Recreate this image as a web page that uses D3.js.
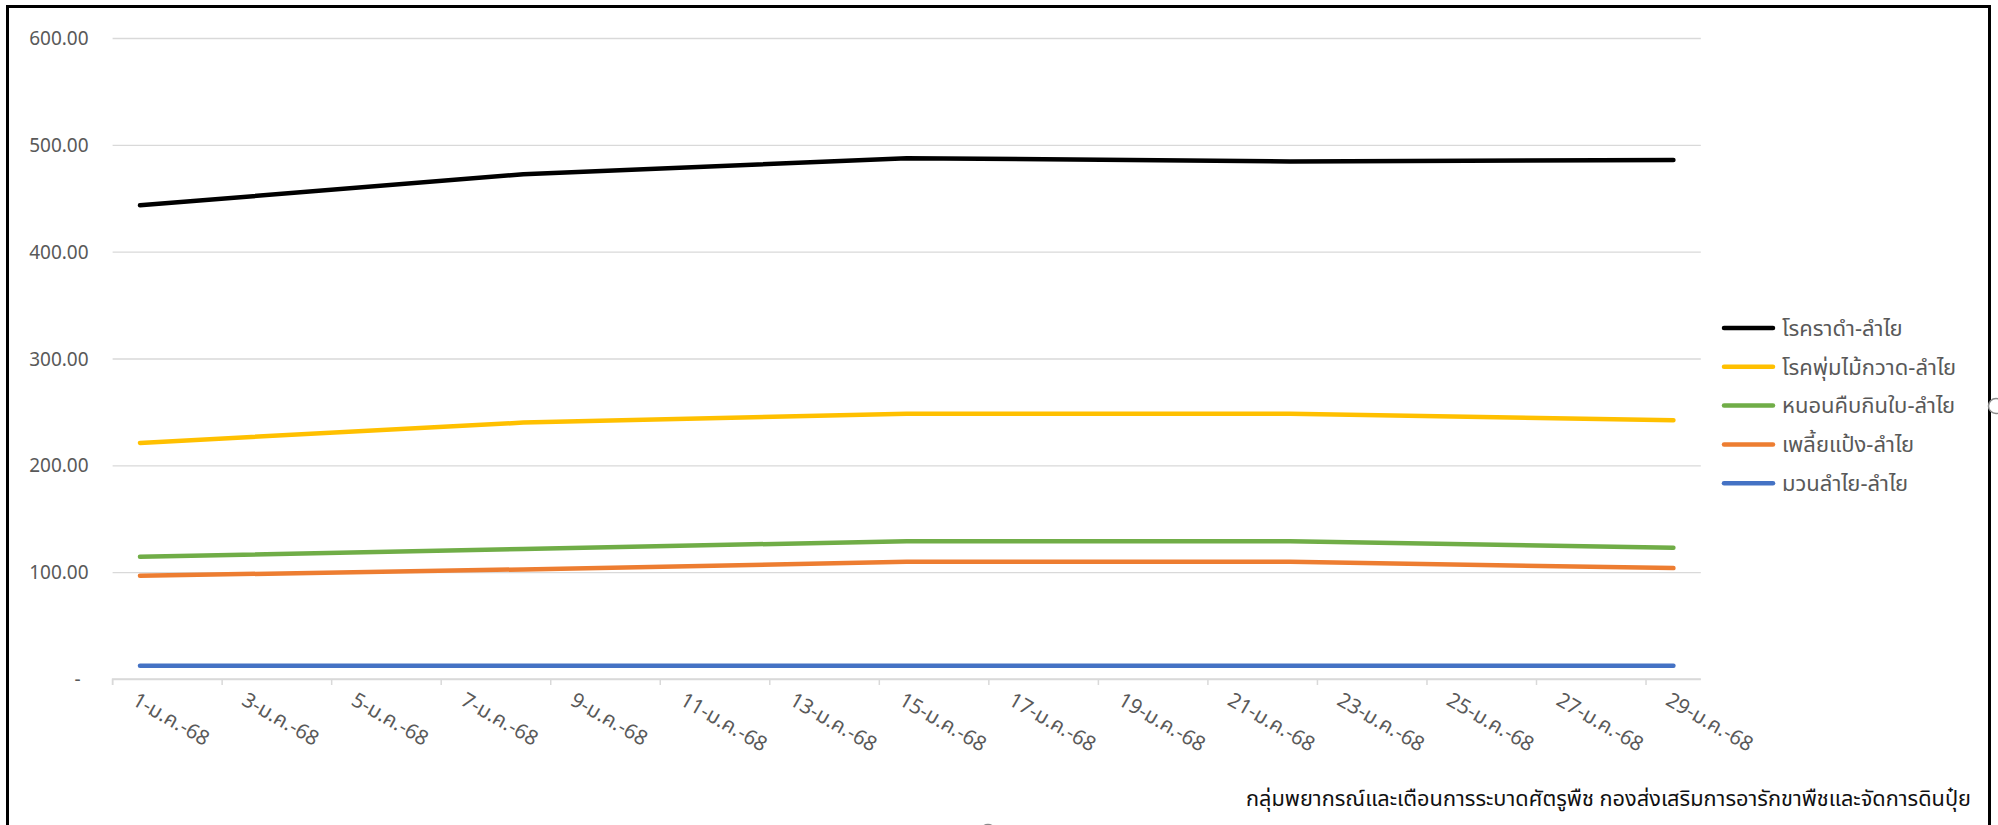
<!DOCTYPE html>
<html>
<head>
<meta charset="utf-8">
<script src="https://cdn.jsdelivr.net/npm/d3@7"></script>
<style>
  html, body { margin: 0; padding: 0; background: #fff; }
  svg { display: block; }
  text { font-family: "Noto Sans", "Noto Sans Thai", "DejaVu Sans", sans-serif; }
</style>
</head>
<body>
<svg id="chart" width="1998" height="825"></svg>
<script>
// ---- data ----
const dayCategories = d3.range(1, 30);                 // 1..29 January 2568
const monthLabel = "ม.ค.";
const yearLabel = "68";
const labelDays = [1, 3, 5, 7, 9, 11, 13, 15, 17, 19, 21, 23, 25, 27, 29];
const observationDays = [1, 8, 15, 22, 29];
const yTicks = [0, 100, 200, 300, 400, 500, 600];

const seriesNames = [
  "โรคราดำ-ลำไย",
  "โรคพุ่มไม้กวาด-ลำไย",
  "หนอนคืบกินใบ-ลำไย",
  "เพลี้ยแป้ง-ลำไย",
  "มวนลำไย-ลำไย"
];
const blackMold    = [443.4, 472.5, 487.5, 484.5, 485.8];
const witchesBroom = [221.0, 240.0, 248.3, 248.3, 242.3];
const looper       = [114.4, 121.8, 128.9, 128.9, 122.8];
const mealybug     = [96.6, 102.6, 109.7, 109.7, 103.8];
const stinkBug     = [12.5, 12.5, 12.5, 12.5, 12.5];
const seriesColors = ["#000000", "#FFC000", "#70AD47", "#ED7D31", "#4472C4"];

const footerText = "กลุ่มพยากรณ์และเตือนการระบาดศัตรูพืช กองส่งเสริมการอารักขาพืชและจัดการดินปุ๋ย";

// ---- layout ----
const svg = d3.select("#chart");
const plot = { left: 112.6, right: 1700.8, top: 38, bottom: 679 };

const x = d3.scaleBand().domain(dayCategories).range([plot.left, plot.right]).padding(0);
const y = d3.scaleLinear().domain([0, 600]).range([plot.bottom, plot.top]);
const cx = d => x(d) + x.bandwidth() / 2;

// outer frame
svg.append("rect").attr("x", 7.5).attr("y", 6.5).attr("width", 1982).attr("height", 830)
  .attr("fill", "#fff").attr("stroke", "#000").attr("stroke-width", 3);

// gridlines (y axis)
const yAxis = d3.axisLeft(y).tickValues(yTicks).tickSize(-(plot.right - plot.left))
  .tickFormat(d => d === 0 ? "-" : d3.format(".2f")(d));
const gy = svg.append("g").attr("transform", `translate(${plot.left},0)`).call(yAxis);
gy.select(".domain").remove();
gy.selectAll(".tick line").attr("stroke", "#d9d9d9").attr("stroke-width", 1.3);
gy.selectAll(".tick text")
  .attr("x", d => d === 0 ? -32 : -24)
  .attr("fill", "#595959").attr("font-size", 19).attr("dy", "0.35em");

// x axis: ticks at the start of every second day
const xAxis = d3.axisBottom(x).tickValues(labelDays).tickSize(6).tickFormat("");
const gx = svg.append("g").attr("transform", `translate(0,${plot.bottom})`).call(xAxis);
gx.select(".domain").attr("stroke", "#d9d9d9").attr("stroke-width", 1.5)
  .attr("d", `M${plot.left},6V0H${plot.right}`);
gx.selectAll(".tick").attr("transform", d => `translate(${x(d)},0)`);
gx.selectAll(".tick line").attr("stroke", "#d9d9d9").attr("stroke-width", 1.5);

// x labels, rotated
svg.append("g").selectAll("text").data(labelDays).join("text")
  .attr("transform", d => `translate(${cx(d) - 9},${plot.bottom + 25}) rotate(30)`)
  .attr("text-anchor", "start")
  .attr("fill", "#595959").attr("font-size", 20.5)
  .text(d => `${d}-${monthLabel}-${yearLabel}`);

// lines
const allSeries = [blackMold, witchesBroom, looper, mealybug, stinkBug];
const line = d3.line().x(d => cx(d.day)).y(d => y(d.value));
allSeries.map((vals, i) => ({ i, pts: observationDays.map((day, k) => ({ day, value: vals[k] })) }))
  .reverse()
  .forEach(s => {
    svg.append("path").datum(s.pts).attr("d", line)
      .attr("fill", "none").attr("stroke", seriesColors[s.i])
      .attr("stroke-width", 4.5).attr("stroke-linecap", "round").attr("stroke-linejoin", "round");
  });

// legend
const legend = svg.append("g").attr("transform", "translate(1724,328)");
seriesNames.forEach((name, i) => {
  const g = legend.append("g").attr("transform", `translate(0,${i * 38.8})`);
  g.append("line").attr("x1", 0).attr("x2", 49).attr("y1", 0).attr("y2", 0)
    .attr("stroke", seriesColors[i]).attr("stroke-width", 4.5).attr("stroke-linecap", "round");
  g.append("text").attr("x", 58).attr("y", 0).attr("dy", "0.35em")
    .attr("fill", "#595959").attr("font-size", 22).text(name);
});

// footer
svg.append("text").attr("x", 1971).attr("y", 806).attr("text-anchor", "end")
  .attr("fill", "#111").attr("font-size", 22)
  .attr("textLength", 725).attr("lengthAdjust", "spacingAndGlyphs")
  .text(footerText);

// selection handles (partially visible)
svg.append("circle").attr("cx", 1996).attr("cy", 406).attr("r", 7.5)
  .attr("fill", "#fff").attr("stroke", "#8a8a8a").attr("stroke-width", 1.5);
svg.append("circle").attr("cx", 988).attr("cy", 832).attr("r", 7.5)
  .attr("fill", "#fff").attr("stroke", "#8a8a8a").attr("stroke-width", 1.5);
</script>
</body>
</html>
